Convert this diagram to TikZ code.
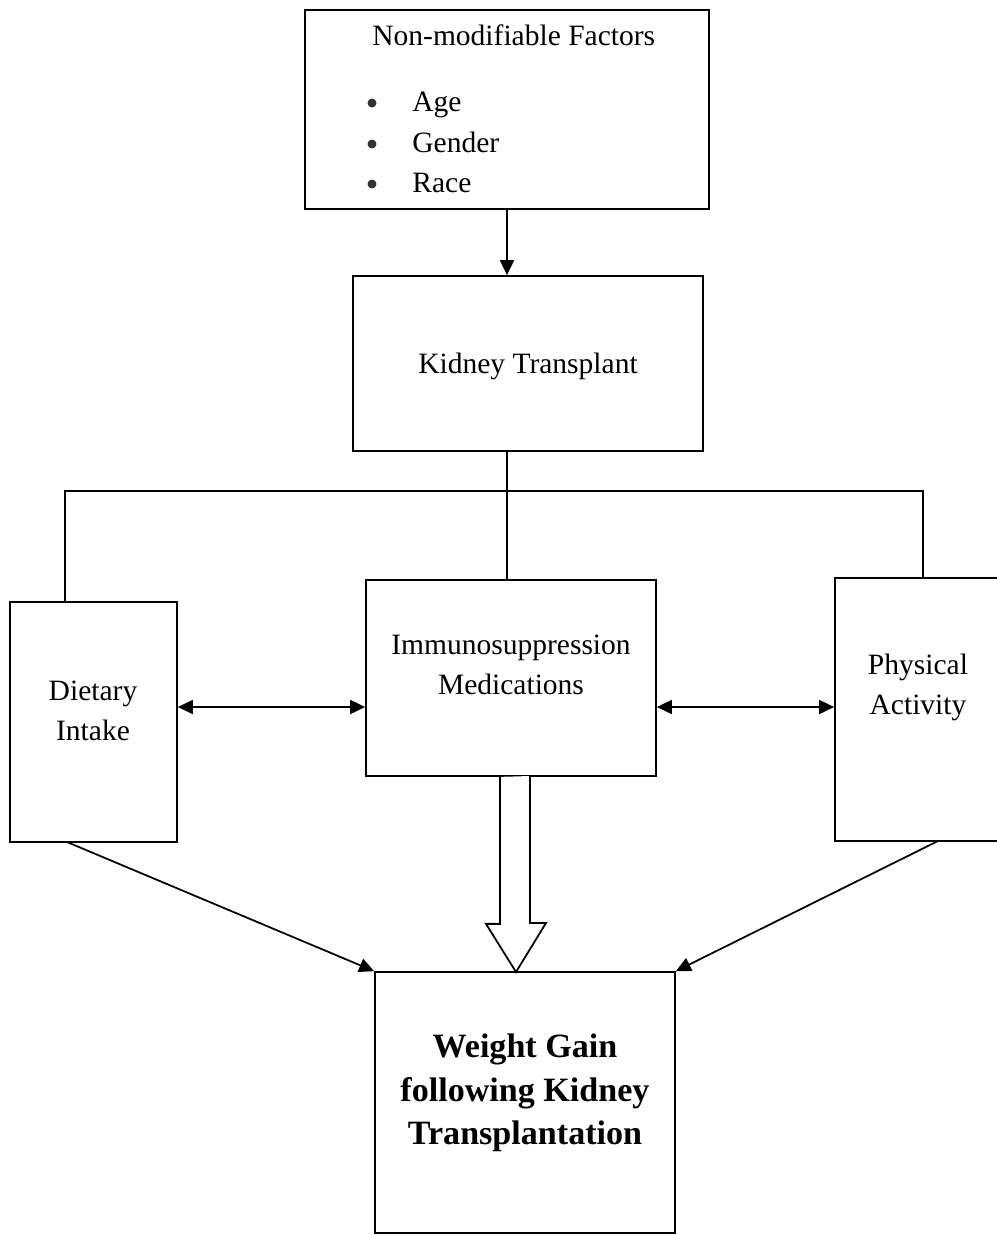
\documentclass[tikz,border=0pt]{standalone}
\usepackage{fontspec}
\setmainfont{Liberation Serif}
\usepackage{tikz}
\usetikzlibrary{positioning,arrows.meta}

\begin{document}
\begin{tikzpicture}[x=0.02cm, y=-0.02cm,
    box/.style={draw, line width=1pt, inner sep=0pt},
    txt/.style={font=\fontsize{16.8}{22.7}\selectfont, align=center, inner sep=0pt},
    bold txt/.style={font=\fontsize{19.4}{24.7}\selectfont\bfseries, align=center, inner sep=0pt},
    dot/.style={circle, fill=black!80, inner sep=0pt, minimum size=0.18cm},
    link/.style={line width=1pt},
    tip/.style={-{Triangle[length=0.3cm, width=0.28cm]}, line width=1pt},
    both tips/.style={{Triangle[length=0.3cm, width=0.28cm]}-{Triangle[length=0.3cm, width=0.28cm]}, line width=1pt}]
    \useasboundingbox (0,0) rectangle (997,1235);

    \coordinate (split) at (507, 491);
    \coordinate (splitL) at (65, 491);
    \coordinate (splitR) at (923, 491);
    \coordinate (side) at (511, 707);
    \coordinate (dietfoot) at (67, 842);
    \coordinate (physfoot) at (938, 841);
    \coordinate (bigtip) at (516, 972);

    \node [box, minimum width=8.08cm, minimum height=3.98cm] (factors) at (507, 109.5) {};
    \node [box, minimum width=7.0cm, minimum height=3.5cm] (kidney) at (528, 363.5) {};
    \node [box, minimum width=3.34cm, minimum height=4.8cm] (diet) at (93.5, 722) {};
    \node [box, minimum width=5.8cm, minimum height=3.92cm] (immuno) at (511, 678) {};
    \node [box, minimum width=3.3cm, minimum height=5.26cm] (phys) at (917.5, 709.5) {};
    \node [box, minimum width=6.0cm, minimum height=5.22cm] (weight) at (525, 1102.5) {};

    \node [txt, anchor=base west] (factorsT) at (372, 45) {Non-modifiable Factors};
    \foreach \name/\base [count=\i] in {Age/111, Gender/152, Race/192} {
      \node [dot] (dot\i) at (372, \base-8) {};
      \node [txt, anchor=base west] (item\i) at (412, \base) {\name};
    }
    \node [txt] (kidneyT) at (528, 366) {Kidney Transplant};
    \node [txt] (dietT) at (93, 711) {Dietary\\Intake};
    \node [txt] (immunoT) at (511, 665) {Immunosuppression\\Medications};
    \node [txt] (physT) at (918, 687) {Physical\\Activity};
    \node [bold txt] (weightT) at (525, 1093) {Weight Gain\\following Kidney\\Transplantation};

    \draw [tip] (factors.south -| split) to (kidney.north -| split);
    \draw [link] (kidney.south -| split) to (split);
    \draw [link] (diet.north -| splitL) -- (splitL) -- (splitR) -- (phys.north -| splitR);
    \draw [link] (split) to (immuno.north -| split);

    \draw [both tips] (diet.east |- side) to (immuno.west |- side);
    \draw [both tips] (immuno.east |- side) to (phys.west |- side);

    \draw [tip] (dietfoot) to (weight.north west);
    \draw [tip] (physfoot) to (weight.north east);

    % open arrow into the outcome box
    \draw [link, fill=white] (immuno.south -| bigtip) ++(-16,0) -- ++(0,147) -- ++(-14,0)
      -- (bigtip) -- ++(30,-49) -- ++(-16,0) -- ++(0,-147);
  \end{tikzpicture}
\end{document}
